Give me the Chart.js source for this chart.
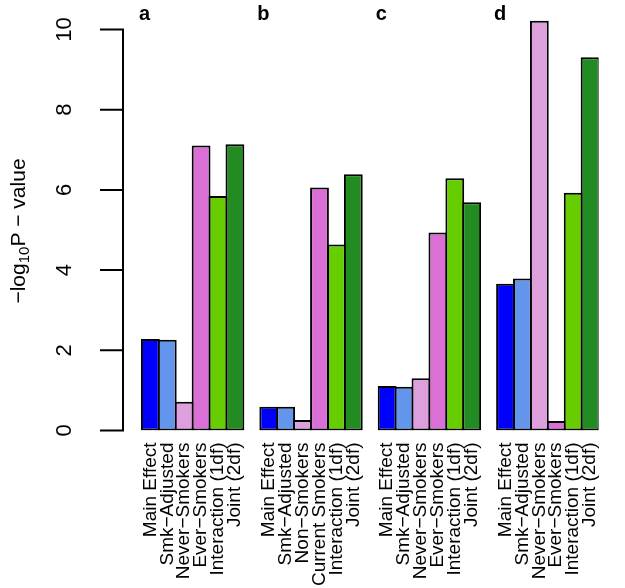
<!DOCTYPE html>
<html><head><meta charset="utf-8">
<script src="https://cdn.jsdelivr.net/npm/chart.js@4"></script>
<style>html,body{margin:0;padding:0;background:#fff}</style>
</head><body>
<canvas id="c" width="625" height="588" style="width:625px;height:588px;display:block"></canvas>
<script>
// ---- data ----
const panelLetters = ['a', 'b', 'c', 'd'];
const labelsA = ['Main Effect', 'Smk\u2212Adjusted', 'Never\u2212Smokers', 'Ever\u2212Smokers', 'Interaction (1df)', 'Joint (2df)'];
const labelsB = ['Main Effect', 'Smk\u2212Adjusted', 'Non\u2212Smokers', 'Current Smokers', 'Interaction (1df)', 'Joint (2df)'];
const labelsC = ['Main Effect', 'Smk\u2212Adjusted', 'Never\u2212Smokers', 'Ever\u2212Smokers', 'Interaction (1df)', 'Joint (2df)'];
const labelsD = ['Main Effect', 'Smk\u2212Adjusted', 'Never\u2212Smokers', 'Ever\u2212Smokers', 'Interaction (1df)', 'Joint (2df)'];
const valuesA = [2.28, 2.26, 0.72, 7.11, 5.85, 7.14];
const valuesB = [0.59, 0.59, 0.26, 6.06, 4.64, 6.39];
const valuesC = [1.11, 1.09, 1.30, 4.94, 6.29, 5.69];
const valuesD = [3.66, 3.79, 10.22, 0.24, 5.93, 9.31];
const barColors = ['#0000FF', '#6495ED', '#DDA0DD', '#DA70D6', '#66CD00', '#228B22'];
const yTicks = [0, 2, 4, 6, 8, 10];

// ---- build (one blank slot before each panel) ----
const groups = [[labelsA, valuesA], [labelsB, valuesB], [labelsC, valuesC], [labelsD, valuesD]];
const allLabels = [], allValues = [], allColors = [], groupStart = [];
groups.forEach(([labs, vals]) => {
  allLabels.push(''); allValues.push(null); allColors.push('#fff');
  groupStart.push(allLabels.length);
  labs.forEach((l, i) => { allLabels.push(l); allValues.push(vals[i]); allColors.push(barColors[i]); });
});

const FONT = '"Liberation Sans", Arial, Helvetica, sans-serif';

const decor = {
  id: 'decor',
  afterDraw(chart) {
    const ctx = chart.ctx, y = chart.scales.y, x = chart.scales.x;
    const ax = chart.chartArea.left - 2;
    ctx.save();
    ctx.strokeStyle = '#000'; ctx.lineWidth = 2; ctx.lineCap = 'butt';
    ctx.beginPath();
    ctx.moveTo(ax, y.getPixelForValue(yTicks[0]) + 1);
    ctx.lineTo(ax, y.getPixelForValue(yTicks[yTicks.length - 1]) - 1);
    yTicks.forEach(t => {
      const py = y.getPixelForValue(t);
      ctx.moveTo(ax + 1, py); ctx.lineTo(ax - 23, py);
    });
    ctx.stroke();
    // tick labels (rotated)
    ctx.fillStyle = '#000';
    ctx.font = '22px ' + FONT;
    ctx.textAlign = 'center'; ctx.textBaseline = 'middle';
    yTicks.forEach(t => {
      const py = y.getPixelForValue(t);
      ctx.save(); ctx.translate(65, py); ctx.rotate(-Math.PI / 2);
      ctx.fillText(String(t), 0, 0); ctx.restore();
    });
    // axis title: -log10P - value
    ctx.save();
    ctx.translate(18, 231); ctx.rotate(-Math.PI / 2);
    const big = '21px ' + FONT, small = '15px ' + FONT;
    const p1 = '\u2212log', p2 = '10', p3 = 'P \u2212 value';
    ctx.font = big; const w1 = ctx.measureText(p1).width, w3 = ctx.measureText(p3).width;
    ctx.font = small; const w2 = ctx.measureText(p2).width;
    let sx = -(w1 + w2 + w3) / 2;
    ctx.textAlign = 'left'; ctx.textBaseline = 'alphabetic';
    ctx.font = big; ctx.fillText(p1, sx, 7); sx += w1;
    ctx.font = small; ctx.fillText(p2, sx, 11); sx += w2;
    ctx.font = big; ctx.fillText(p3, sx, 7);
    ctx.restore();
    // panel letters
    ctx.font = 'bold 20px ' + FONT;
    ctx.textAlign = 'left'; ctx.textBaseline = 'alphabetic';
    const half = (x.getPixelForValue(1) - x.getPixelForValue(0)) / 2;
    panelLetters.forEach((l, i) => {
      ctx.fillText(l, x.getPixelForValue(groupStart[i]) - half - 3, 20);
    });
    ctx.restore();
  }
};

new Chart(document.getElementById('c'), {
  type: 'bar',
  data: {
    labels: allLabels,
    datasets: [{
      data: allValues,
      backgroundColor: allColors,
      borderColor: '#000',
      borderWidth: 2,
      borderSkipped: false,
      categoryPercentage: 1,
      barPercentage: 1.113
    }]
  },
  options: {
    responsive: false,
    animation: false,
    devicePixelRatio: 1,
    layout: { padding: { top: 9.45, right: 6.3, left: 0, bottom: 0 } },
    plugins: { legend: { display: false }, tooltip: { enabled: false } },
    scales: {
      x: {
        type: 'category',
        grid: { display: false, drawTicks: false },
        border: { display: false },
        ticks: {
          autoSkip: false, minRotation: 90, maxRotation: 90,
          color: '#000', padding: 12,
          font: { size: 19, family: FONT }
        },
        afterFit: s => { s.height = 157.5; }
      },
      y: {
        min: 0, max: 10.5,
        grid: { display: false, drawTicks: false },
        border: { display: false },
        ticks: { display: false, stepSize: 2 },
        afterFit: s => { s.width = 125; }
      }
    }
  },
  plugins: [decor]
});
</script>
</body></html>
